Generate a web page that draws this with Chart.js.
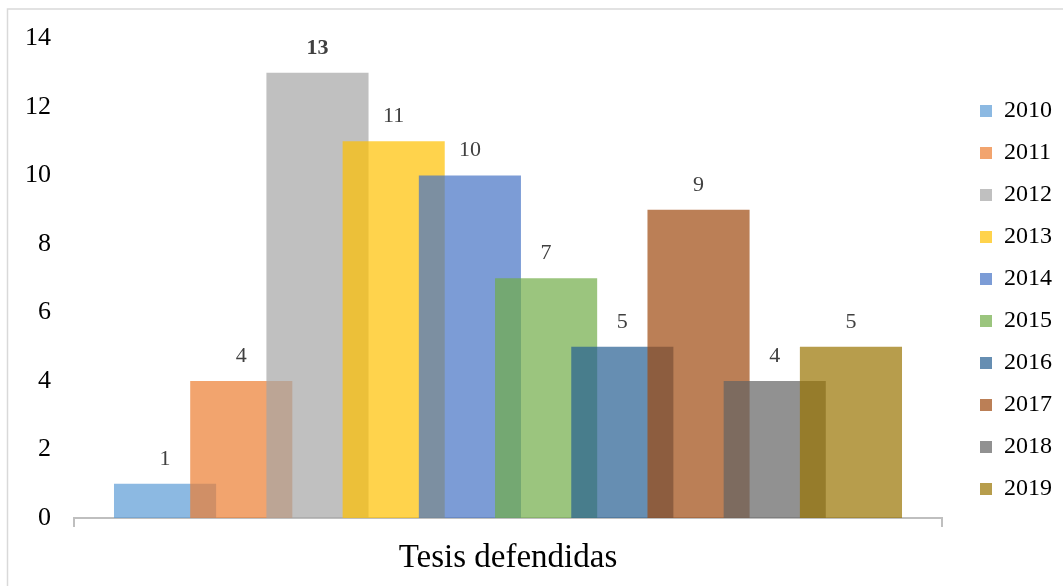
<!DOCTYPE html>
<html>
<head>
<meta charset="utf-8">
<script src="https://cdn.jsdelivr.net/npm/chart.js@4"></script>
<style>
  body { margin: 0; background: #fff; }
  .container { width: 1063px; height: 586px; position: relative; }
</style>
</head>
<body>
<div class="container">
  <canvas id="thesisChart"></canvas>
</div>
<script>
const categories = ['Tesis defendidas'];
const years = ['2010', '2011', '2012', '2013', '2014', '2015', '2016', '2017', '2018', '2019'];
const values = [1, 4, 13, 11, 10, 7, 5, 9, 4, 5];
const colors = [
  'rgba(91, 155, 213, 0.7)',
  'rgba(237, 125, 49, 0.7)',
  'rgba(165, 165, 165, 0.7)',
  'rgba(255, 192, 0, 0.7)',
  'rgba(68, 114, 196, 0.7)',
  'rgba(112, 173, 71, 0.7)',
  'rgba(37, 94, 145, 0.7)',
  'rgba(158, 72, 14, 0.7)',
  'rgba(99, 99, 99, 0.7)',
  'rgba(153, 115, 0, 0.7)'
];
const yMax = 14;
const yStep = 2;

const serif = '"Liberation Serif", "Times New Roman", serif';

// later years sit on top of earlier ones, then the value labels
const drawBarsInOrder = {
  id: 'drawBarsInOrder',
  beforeDatasetsDraw(chart) {
    const ctx = chart.ctx;
    const metas = chart.getSortedVisibleDatasetMetas();
    metas.forEach(meta => meta.controller.draw());

    ctx.save();
    ctx.textAlign = 'center';
    ctx.textBaseline = 'middle';
    ctx.fillStyle = '#404040';
    metas.forEach(meta => {
      meta.data.forEach((bar, i) => {
        const v = chart.data.datasets[meta.index].data[i];
        const bold = v === Math.max(...values);
        ctx.font = (bold ? 'bold ' : '') + '22px ' + serif;
        ctx.fillText(v, bar.x, bar.y - 25);
      });
    });
    ctx.restore();
    return false;
  }
};

const frame = {
  id: 'frame',
  beforeDraw(chart) {
    const ctx = chart.ctx;
    ctx.save();
    ctx.strokeStyle = '#D9D9D9';
    ctx.lineWidth = 1.5;
    ctx.beginPath();
    ctx.moveTo(7.5, chart.height);
    ctx.lineTo(7.5, 9);
    ctx.lineTo(chart.width, 9);
    ctx.stroke();
    ctx.restore();
  }
};

// push the legend a bit away from the plot and up
const legendShift = {
  id: 'legendShift',
  afterLayout(chart) {
    const lg = chart.legend;
    const dx = chart.chartArea.right + 38 - (lg.left + lg.options.labels.padding);
    lg.left += dx;
    lg.right += dx;
    lg.top -= 12;
    lg.bottom -= 12;
  }
};

new Chart(document.getElementById('thesisChart'), {
  type: 'bar',
  data: {
    labels: categories,
    datasets: years.map((y, i) => ({
      label: y,
      data: [values[i]],
      backgroundColor: colors[i],
      borderWidth: 0,
      inflateAmount: 0
    }))
  },
  options: {
    responsive: true,
    maintainAspectRatio: false,
    animation: false,
    categoryPercentage: 0.878,
    barPercentage: 1.34,
    layout: {
      padding: { top: 38, left: 2, right: 21, bottom: 0 }
    },
    plugins: {
      legend: {
        position: 'right',
        align: 'center',
        labels: {
          boxWidth: 12,
          boxHeight: 12,
          padding: 18,
          color: '#000',
          font: { family: serif, size: 24 }
        }
      },
      tooltip: { enabled: false }
    },
    scales: {
      x: {
        afterFit(scale) {
          scale.height = 68;
        },
        grid: {
          display: true,
          drawOnChartArea: false,
          drawTicks: true,
          tickLength: 9,
          color: '#BFBFBF',
          lineWidth: 2
        },
        border: { display: true, color: '#BFBFBF', width: 2 },
        ticks: {
          color: '#000',
          padding: 12,
          font: { family: serif, size: 33 }
        }
      },
      y: {
        min: 0,
        max: yMax,
        grid: { display: false, drawTicks: false },
        border: { display: false },
        ticks: {
          stepSize: yStep,
          padding: 23,
          color: '#000',
          font: { family: serif, size: 26 }
        }
      }
    }
  },
  plugins: [drawBarsInOrder, frame, legendShift]
});
</script>
</body>
</html>
